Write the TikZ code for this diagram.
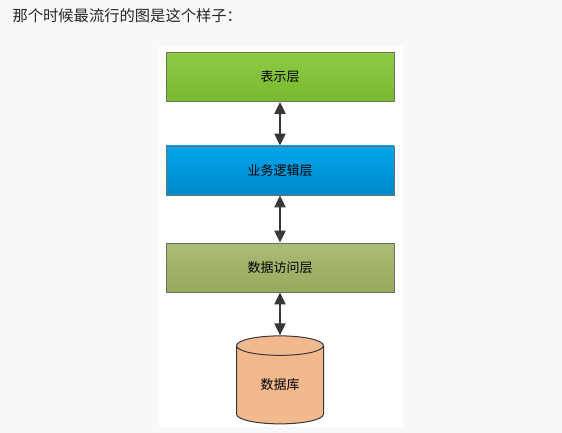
\documentclass[tikz,border=0pt]{standalone}
\usepackage{fontspec}
\newfontfamily\cjk{Noto Sans CJK SC}
\usetikzlibrary{arrows.meta,shapes.geometric}
\definecolor{pagebg}{HTML}{F8F8F8}
\definecolor{greenA}{HTML}{8DCB45}
\definecolor{greenB}{HTML}{78B92E}
\definecolor{blueA}{HTML}{00A6EC}
\definecolor{blueB}{HTML}{0088CA}
\definecolor{oliveA}{HTML}{ABBD76}
\definecolor{oliveB}{HTML}{97A95D}
\definecolor{dbfill}{HTML}{F2B98F}
\definecolor{edgegray}{HTML}{6E6E6E}
\definecolor{arrowgray}{HTML}{383838}
\tikzset{
  layer/.style={draw=edgegray, line width=0.8pt, minimum width=228pt, minimum height=49pt,
    inner sep=0pt, font=\cjk\fontsize{13}{15}\selectfont, text=black},
  link/.style={draw=arrowgray, line width=2pt,
    {Triangle[width=11pt,length=12pt]}-{Triangle[width=11pt,length=12pt]}},
  dbshape/.style={cylinder, shape border rotate=90, aspect=0.5, draw=arrowgray, line width=1pt,
    fill=dbfill, minimum width=87pt, minimum height=88pt, inner sep=0pt,
    font=\cjk\fontsize{13}{15}\selectfont, text=black}
}
\begin{document}
\begin{tikzpicture}[x=1pt,y=-1pt]
  \fill[pagebg] (0,0) rectangle (562,433);
  \useasboundingbox (0,0) rectangle (562,433);
  \fill[white] (159,46) rectangle (403,427);
  \node[anchor=west, font=\cjk\fontsize{15.3}{17}\selectfont, text=black!85] (title) at (9,16) {那个时候最流行的图是这个样子：};
  \node[layer, top color=greenA, bottom color=greenB] (pres) at (280,77) {表示层};
  \node[layer, top color=blueA, bottom color=blueB] (biz) at (280,170.5) {业务逻辑层};
  \node[layer, top color=oliveA, bottom color=oliveB] (dal) at (280,267.5) {数据访问层};
  \node[dbshape] (db) at (280,385) {数据库};
  \draw[link] (pres.south) -- (biz.north);
  \draw[link] (biz.south) -- (dal.north);
  \draw[link] (dal.south) -- (db.top);
\end{tikzpicture}
\end{document}
